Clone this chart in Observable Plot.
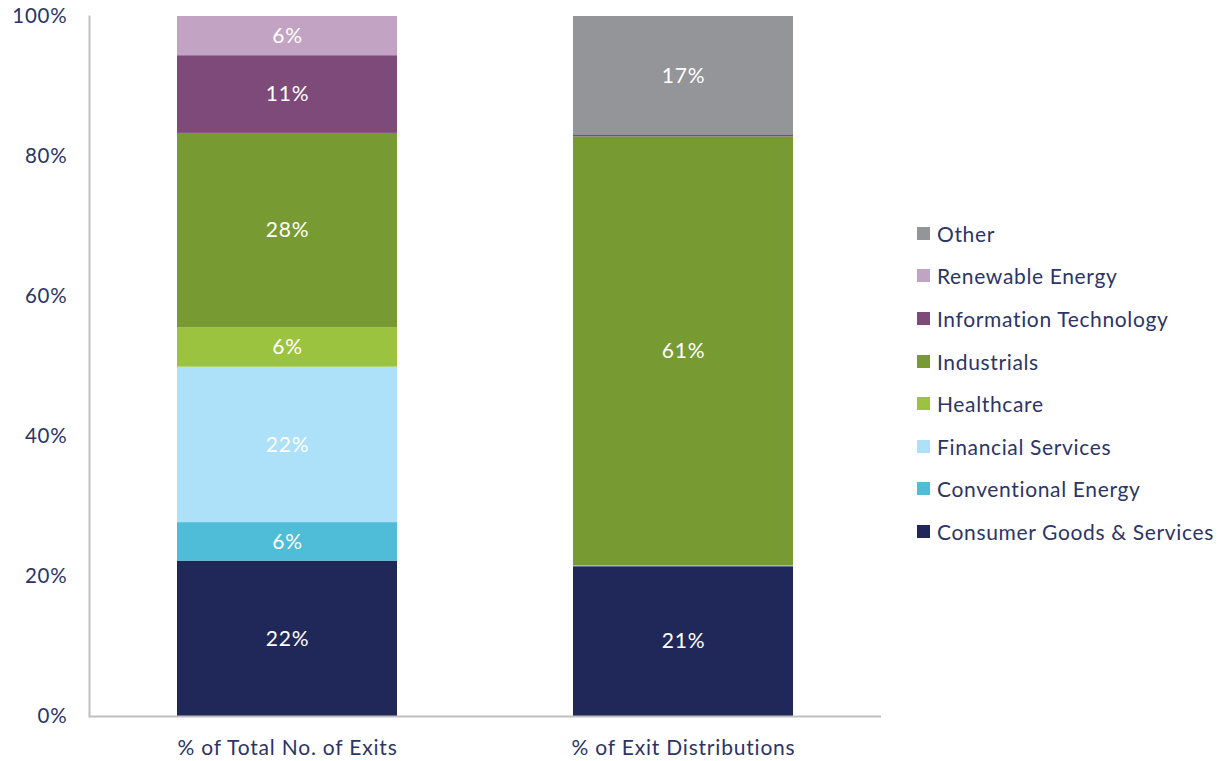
<!DOCTYPE html>
<html>
<head>
<meta charset="utf-8">
<script src="https://cdn.jsdelivr.net/npm/d3@7"></script>
<script src="https://cdn.jsdelivr.net/npm/@observablehq/plot@0.6"></script>
<style>
  html, body { margin: 0; padding: 0; background: #fff; }
  #wrap { position: relative; width: 1219px; height: 761px; font-family: Lato, "Open Sans", sans-serif; }
  #legend { position: absolute; left: 917px; top: 212px; color: #2B3566; font-size: 21px; letter-spacing: 0.65px; }
  #legend .item { display: flex; align-items: center; height: 42.6px; white-space: nowrap; }
  #legend .sw { width: 13px; height: 13px; margin-right: 7px; flex: none; }
</style>
</head>
<body>
<div id="wrap"><div id="chart"></div><div id="legend"></div></div>
<script>
const groups = ["% of Total No. of Exits", "% of Exit Distributions"];
const sectors = ["Consumer Goods & Services", "Conventional Energy", "Financial Services", "Healthcare", "Industrials", "Information Technology", "Renewable Energy", "Other"];
const colors = ["#1F2859", "#4FBCD8", "#ADE0F9", "#9BC33F", "#779A32", "#7E4A7A", "#C3A3C4", "#939598"];
const exitsShare = [22.2, 5.5, 22.2, 5.6, 27.8, 11.1, 5.6, 0];
const distributionShare = [21.4, 0, 0.1, 0, 61.3, 0.2, 0, 17.0];
const yTicks = [0, 20, 40, 60, 80, 100];

const data = [];
sectors.forEach((s, i) => {
  data.push({group: groups[0], sector: s, value: exitsShare[i]});
  data.push({group: groups[1], sector: s, value: distributionShare[i]});
});

const textColor = "#2B3566";
const chart = Plot.plot({
  width: 890,
  height: 761,
  marginTop: 16,
  marginBottom: 45,
  marginLeft: 89,
  marginRight: 9,
  style: {fontFamily: "Lato, 'Open Sans', sans-serif", fontSize: "21px", letterSpacing: "0.8px", color: textColor, background: "#fff"},
  x: {domain: groups, paddingInner: 0.444, paddingOuter: 0.222, label: null},
  y: {domain: [0, 100], label: null},
  color: {domain: sectors, range: colors},
  marks: [
    Plot.barY(data, Plot.stackY({order: sectors}, {x: "group", y: "value", fill: "sector", z: "sector", inset: 0})),
    Plot.text(data, Plot.stackY({order: sectors}, {
      x: "group", y: "value", z: "sector",
      text: d => d.value >= 3 ? `${Math.round(d.value)}%` : "",
      fill: "white", fontSize: 21
    })),
    Plot.axisY({ticks: yTicks, tickSize: 0, tickPadding: 22, tickFormat: d => `${d}%`, fill: textColor, fontSize: 20.5}),
    Plot.axisX({tickSize: 0, tickPadding: 24, fill: textColor, fontSize: 21}),
    Plot.ruleY([0], {stroke: "#BFBFBF", strokeWidth: 2}),
    Plot.frame({anchor: "left", stroke: "#BFBFBF", strokeWidth: 2})
  ]
});
document.getElementById("chart").appendChild(chart);

const legend = document.getElementById("legend");
for (let i = sectors.length - 1; i >= 0; i--) {
  const item = document.createElement("div");
  item.className = "item";
  const sw = document.createElement("span");
  sw.className = "sw";
  sw.style.background = colors[i];
  const label = document.createElement("span");
  label.textContent = sectors[i];
  item.appendChild(sw);
  item.appendChild(label);
  legend.appendChild(item);
}
</script>
</body>
</html>
